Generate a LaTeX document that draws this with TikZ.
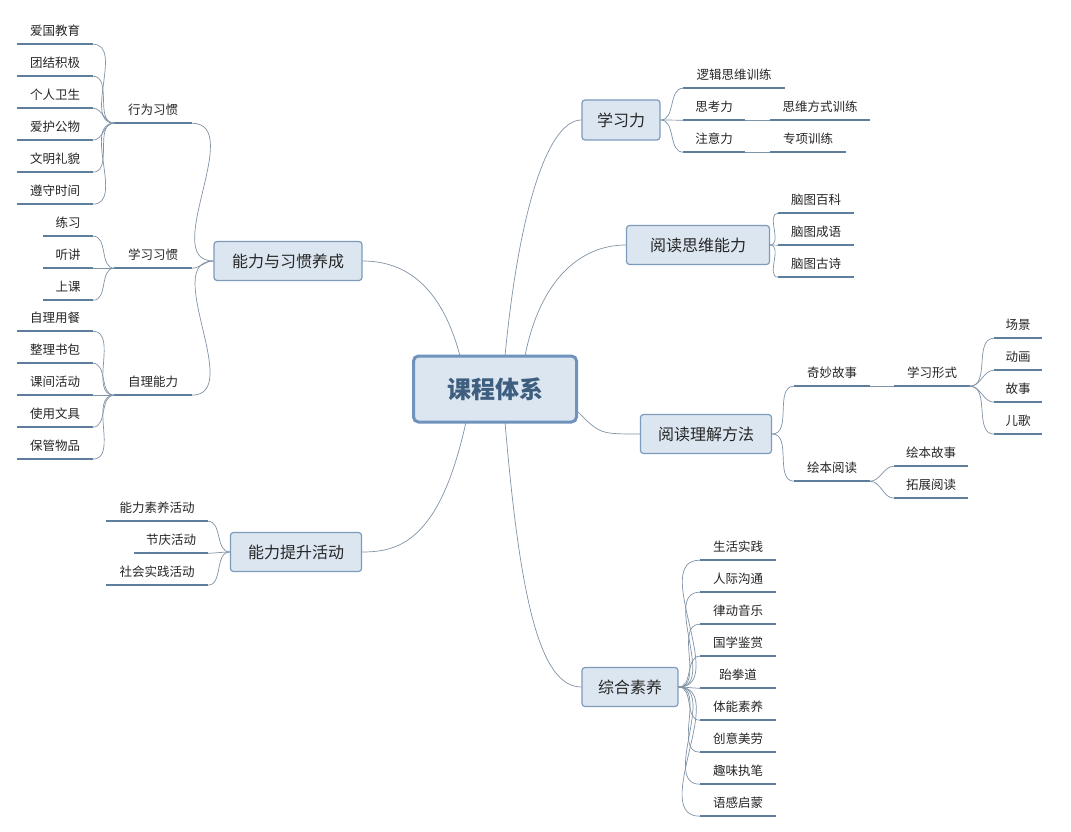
\documentclass[tikz,border=0pt]{standalone}
\usepackage{fontspec}
\setmainfont{Noto Sans CJK SC}
\definecolor{cnc}{HTML}{8193A6}
\definecolor{ulc}{HTML}{5F7E9E}
\definecolor{brd}{HTML}{7D9BBB}
\definecolor{bfill}{HTML}{DCE6F0}
\definecolor{ctext}{HTML}{3E5E80}
\definecolor{cbrd}{HTML}{6F93BD}
\begin{document}
\begin{tikzpicture}[x=1pt,y=-1pt,
  cn/.style={draw=cnc, line width=0.7pt},
  ul/.style={draw=ulc, line width=1.6pt},
  br/.style={draw=brd, line width=1.2pt, fill=bfill, rounded corners=3pt, inner sep=0pt, font=\fontsize{16}{16}\selectfont, text=black!85},
  lf/.style={inner sep=0pt, minimum height=26pt, font=\fontsize{12.5}{13}\selectfont, text=black!85}]
\useasboundingbox[fill=white] (0,0) rectangle (1071,832);
\newcommand\lf[5]{\node[lf,minimum width=#5pt] (#1) at (#2,#3) {#4}; \draw[ul] (#1.south west)--(#1.south east);}
% center
\node[draw=cbrd, line width=3pt, fill=bfill, rounded corners=5pt, minimum width=163pt, minimum height=66pt, font=\fontsize{24}{24}\bfseries\selectfont, text=ctext] (c) at (495,389) {课程体系};
% branches
\node[br,minimum width=78pt,minimum height=40pt] (b1) at (621,120) {学习力};
\node[br,minimum width=143pt,minimum height=39pt] (b2) at (698,245) {阅读思维能力};
\node[br,minimum width=131pt,minimum height=39pt] (b3) at (706,434) {阅读理解方法};
\node[br,minimum width=96pt,minimum height=39pt] (b4) at (630,687) {综合素养};
\node[br,minimum width=148pt,minimum height=39pt] (b5) at (288,261) {能力与习惯养成};
\node[br,minimum width=131pt,minimum height=39pt] (b6) at (296,552) {能力提升活动};
\coordinate (s1) at (505,356); \coordinate (s2) at (525,356); \coordinate (s3) at (578,412);
\coordinate (s4) at (505,422); \coordinate (s5) at (460,356); \coordinate (s6) at (466,422);
\draw[cn] (s1) .. controls (520,200) and (550,120) .. (b1.west);
\draw[cn] (s2) .. controls (540,280) and (580,245) .. (b2.west);
\draw[cn] (s3) .. controls (600,434) .. (b3.west);
\draw[cn] (s4) .. controls (520,600) and (540,687) .. (b4.west);
\draw[cn] (s5) .. controls (440,280) and (400,261) .. (b5.east);
\draw[cn] (s6) .. controls (440,540) and (400,552) .. (b6.east);
% 学习力
\lf{a1}{734}{75}{逻辑思维训练}{101}
\lf{a2}{714}{107}{思考力}{61}
\lf{a3}{820}{107}{思维方式训练}{100}
\lf{a4}{714}{139}{注意力}{61}
\lf{a5}{808}{139}{专项训练}{75}
\foreach \n in {a1,a2,a4} \draw[cn] (b1.east) to[out=0,in=180] (\n.south west);
\draw[cn] (a2.south east)--(a3.south west);
\draw[cn] (a4.south east)--(a5.south west);
% 阅读思维能力
\lf{r1}{816}{200}{脑图百科}{75}
\lf{r2}{816}{232}{脑图成语}{75}
\lf{r3}{816}{264}{脑图古诗}{75}
\foreach \n in {r1,r2,r3} \draw[cn] (b2.east) to[out=0,in=180] (\n.south west);
% 阅读理解方法
\lf{m1}{832}{373}{奇妙故事}{75}
\lf{m2}{932}{373}{学习形式}{75}
\lf{m3}{1018}{325}{场景}{47}
\lf{m4}{1018}{357}{动画}{47}
\lf{m5}{1018}{389}{故事}{47}
\lf{m6}{1018}{421}{儿歌}{47}
\lf{m7}{832}{468}{绘本阅读}{75}
\lf{m8}{931}{453}{绘本故事}{73}
\lf{m9}{931}{485}{拓展阅读}{73}
\foreach \n in {m1,m7} \draw[cn] (b3.east) to[out=0,in=180] (\n.south west);
\draw[cn] (m1.south east)--(m2.south west);
\foreach \n in {m3,m4,m5,m6} \draw[cn] (m2.south east) to[out=0,in=180] (\n.south west);
\foreach \n in {m8,m9} \draw[cn] (m7.south east) to[out=0,in=180] (\n.south west);
% 综合素养
\foreach \t [count=\i] in {生活实践,人际沟通,律动音乐,国学鉴赏,跆拳道,体能素养,创意美劳,趣味执笔,语感启蒙} {
  \lf{z\i}{738}{515+32*\i}{\t}{76}
  \draw[cn] (b4.east) to[out=0,in=180] (z\i.south west);
}
% 能力与习惯养成
\lf{h1}{153}{110}{行为习惯}{77}
\lf{h2}{153}{255}{学习习惯}{77}
\lf{h3}{153}{382}{自理能力}{77}
\foreach \n in {h1,h2,h3} \draw[cn] (b5.west) to[out=180,in=0] (\n.south east);
\foreach \t [count=\i] in {爱国教育,团结积极,个人卫生,爱护公物,文明礼貌,遵守时间} {
  \lf{p\i}{55}{-1+32*\i}{\t}{75}
  \draw[cn] (h1.south west) to[out=180,in=0] (p\i.south east);
}
\foreach \t [count=\i] in {练习,听讲,上课} {
  \lf{q\i}{68}{191+32*\i}{\t}{50}
  \draw[cn] (h2.south west) to[out=180,in=0] (q\i.south east);
}
\foreach \t [count=\i] in {自理用餐,整理书包,课间活动,使用文具,保管物品} {
  \lf{u\i}{55}{286+32*\i}{\t}{75}
  \draw[cn] (h3.south west) to[out=180,in=0] (u\i.south east);
}
% 能力提升活动
\lf{t1}{157}{508}{能力素养活动}{101}
\lf{t2}{171}{540}{节庆活动}{73}
\lf{t3}{157}{572}{社会实践活动}{101}
\foreach \n in {t1,t2,t3} \draw[cn] (b6.west) to[out=180,in=0] (\n.south east);
\end{tikzpicture}
\end{document}
